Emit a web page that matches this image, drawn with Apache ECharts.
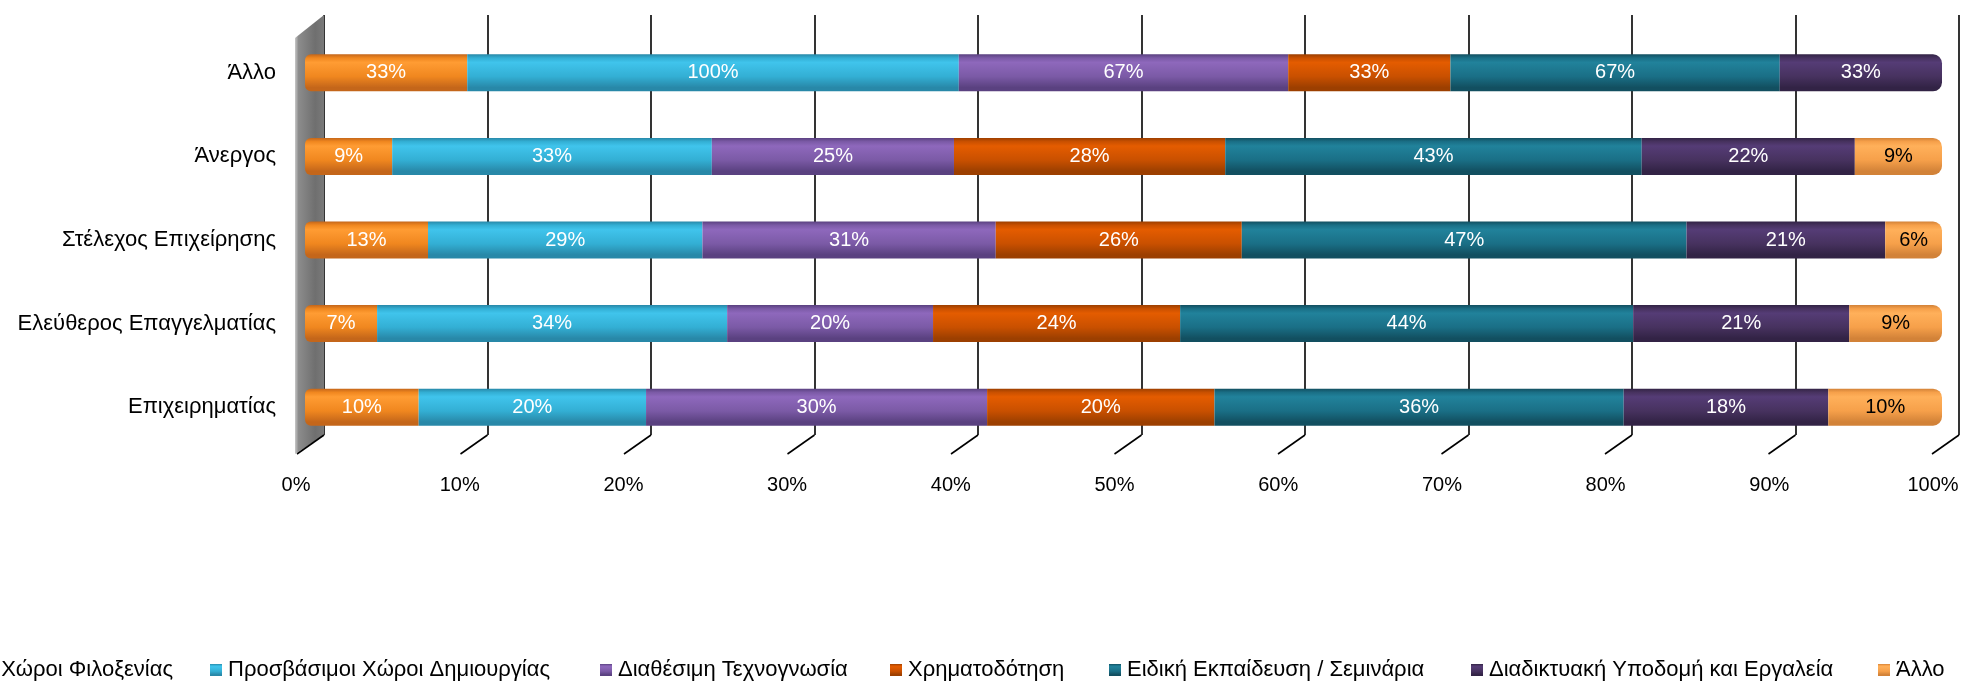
<!DOCTYPE html>
<html>
<head>
<meta charset="utf-8">
<style>
html,body{margin:0;padding:0;background:#fff;}
#main{width:1967px;height:681px;}
</style>
<script src="https://cdn.jsdelivr.net/npm/echarts@6/dist/echarts.min.js"></script>
</head>
<body>
<div id="main"></div>
<script>
// ---- data ----
const categories = ['Επιχειρηματίας', 'Ελεύθερος Επαγγελματίας', 'Στέλεχος Επιχείρησης', 'Άνεργος', 'Άλλο'];
const seriesNames = ['Διαθέσιμοι Χώροι Φιλοξενίας', 'Προσβάσιμοι Χώροι Δημιουργίας', 'Διαθέσιμη Τεχνογνωσία', 'Χρηματοδότηση', 'Ειδική Εκπαίδευση / Σεμινάρια', 'Διαδικτυακή Υποδομή και Εργαλεία', 'Άλλο'];
const hosting   = [10, 7, 13, 9, 33];
const creative  = [20, 34, 29, 33, 100];
const knowhow   = [30, 20, 31, 25, 67];
const funding   = [20, 24, 26, 28, 33];
const training  = [36, 44, 47, 43, 67];
const internet  = [18, 21, 21, 22, 33];
const other     = [10, 9, 6, 9, 0];
const tickValues = [0, 10, 20, 30, 40, 50, 60, 70, 80, 90, 100];

const seriesValues = [hosting, creative, knowhow, funding, training, internet, other];

// ---- styles ----
const palette = [
  ['#FF9C33', '#F0871F', '#C4661A'],
  ['#40C4EC', '#33AFD4', '#2888A8'],
  ['#8E68BC', '#7B5AA6', '#5A4180'],
  ['#E45C00', '#C95000', '#9C3F00'],
  ['#21829B', '#1A6F86', '#124F60'],
  ['#553C76', '#47325F', '#322345'],
  ['#FFB05A', '#F6A04A', '#D28238']
];
function grad(c) {
  return new echarts.graphic.LinearGradient(0, 0, 0, 1, [
    {offset: 0, color: c[2]},
    {offset: 0.1, color: c[1]},
    {offset: 0.22, color: c[0]},
    {offset: 0.6, color: c[1]},
    {offset: 0.9, color: c[2]},
    {offset: 1, color: c[2]}
  ]);
}
const FONT = 'Liberation Sans';

const rowSums = categories.map((_, i) => seriesValues.reduce((s, arr) => s + arr[i], 0));
const lastIdx = categories.map((_, i) => {
  let k = -1;
  seriesValues.forEach((arr, j) => { if (arr[i] > 0) k = j; });
  return k;
});

const barSeries = seriesValues.map((arr, j) => ({
  name: seriesNames[j],
  type: 'bar',
  stack: 'total',
  xAxisIndex: 0,
  yAxisIndex: 0,
  barWidth: 37,
  z: 5,
  itemStyle: {color: grad(palette[j])},
  label: {
    show: true,
    position: 'inside',
    color: j === 6 ? '#000' : '#fff',
    fontFamily: FONT,
    fontSize: 20,
    formatter: p => (arr[p.dataIndex] > 0 ? arr[p.dataIndex] + '%' : '')
  },
  data: arr.map((v, i) => {
    const o = {value: v / rowSums[i] * 100};
    if (lastIdx[i] === j) o.itemStyle = {borderRadius: [0, 9, 9, 0]};
    else if (j === 0) o.itemStyle = {borderRadius: [6, 0, 0, 6]};
    return o;
  })
}));

// 3D decoration: diagonals and left wall, drawn from the back grid's axis scale
const DX = 27, DY = 19;
const decoSeries = {
  type: 'custom',
  xAxisIndex: 1,
  yAxisIndex: 1,
  z: 1,
  silent: true,
  data: tickValues,
  renderItem: function (params, api) {
    const v = api.value(0);
    const b = api.coord([v, 0]);
    const children = [{
      type: 'line',
      shape: {x1: b[0], y1: b[1], x2: b[0] - DX, y2: b[1] + DY},
      style: {stroke: '#000', lineWidth: 1.6}
    }];
    if (v === 0) {
      const t = api.coord([0, 1]);
      children.unshift({
        type: 'polygon',
        shape: {points: [[t[0], t[1]], [t[0] - DX - 2, t[1] + DY + 4], [b[0] - DX - 2, b[1] + DY], [b[0], b[1]]]},
        style: {
          fill: new echarts.graphic.LinearGradient(0, 0, 1, 0, [
            {offset: 0, color: '#c8c8c8'},
            {offset: 0.12, color: '#8c8c8c'},
            {offset: 0.7, color: '#6f6f6f'},
            {offset: 1, color: '#7a7a7a'}
          ])
        }
      });
    }
    return {type: 'group', children: children};
  }
};

const legendPos = [
  {right: 1967 - 173},
  {left: 210},
  {left: 600},
  {left: 890},
  {left: 1109},
  {left: 1471},
  {left: 1878}
];
const legends = seriesNames.map((n, j) => Object.assign({
  data: [n],
  top: 659,
  padding: 0,
  itemWidth: 12,
  itemHeight: 12,
  itemGap: 5,
  icon: 'rect',
  selectedMode: false,
  textStyle: {fontFamily: FONT, fontSize: 22, color: '#000', padding: [0, 0, 0, 1]}
}, legendPos[j]));

const option = {
  animation: false,
  backgroundColor: '#fff',
  legend: legends,
  grid: [
    {left: 305, width: 1637, top: 31, height: 418},
    {left: 324, width: 1635, top: 15, height: 420}
  ],
  xAxis: [
    {
      type: 'value', gridIndex: 0, min: 0, max: 100, interval: 10,
      axisLine: {show: false}, axisTick: {show: false}, splitLine: {show: false},
      axisLabel: {formatter: '{value}%', fontFamily: FONT, fontSize: 20, color: '#000', margin: 26, padding: [0, 18, 0, 0]}
    },
    {
      type: 'value', gridIndex: 1, min: 0, max: 100, interval: 10,
      axisLine: {show: false}, axisTick: {show: false}, axisLabel: {show: false},
      splitLine: {show: true, lineStyle: {color: '#000', width: 1.6}}
    }
  ],
  yAxis: [
    {
      type: 'category', gridIndex: 0, data: categories,
      axisLine: {show: false}, axisTick: {show: false},
      axisLabel: {fontFamily: FONT, fontSize: 22, color: '#000', margin: 29}
    },
    {
      type: 'value', gridIndex: 1, min: 0, max: 1, show: false
    }
  ],
  series: [decoSeries].concat(barSeries)
};

const chart = echarts.init(document.getElementById('main'));
chart.setOption(option);
</script>
</body>
</html>
